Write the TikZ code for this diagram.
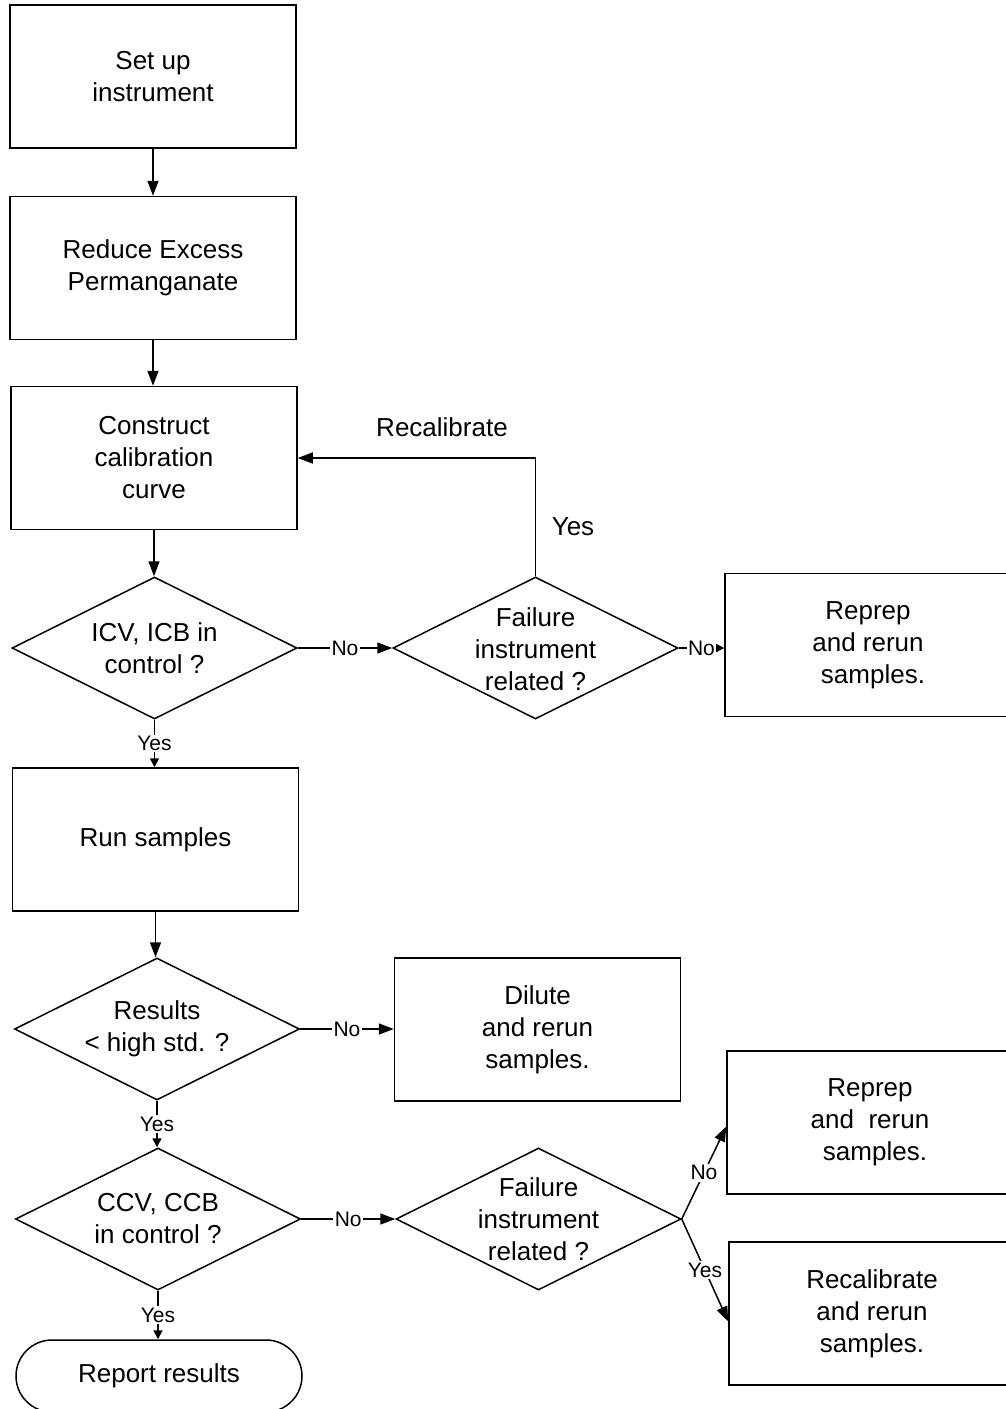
\documentclass[tikz,border=0pt]{standalone}
\usepackage{fontspec}
\setmainfont{Liberation Sans}
\usetikzlibrary{shapes.geometric,arrows.meta}
\begin{document}
\begin{tikzpicture}[x=1pt,y=-1pt,line width=1.5pt,
  box/.style={draw,rectangle,minimum width=286pt,minimum height=143pt,inner sep=0pt},
  dia/.style={draw,diamond,minimum width=285pt,minimum height=142pt,inner sep=0pt},
  txt/.style={align=center,font=\fontsize{26}{32}\selectfont,inner sep=0pt},
  lbl/.style={font=\fontsize{21}{25}\selectfont,fill=white,inner sep=1.5pt},
  arr/.style={-{Triangle[length=15pt,width=11pt]}},
  sarr/.style={-{Triangle[length=9pt,width=9pt]}}]
\useasboundingbox (0,0) rectangle (1006,1409);
\clip (0,0) rectangle (1006,1409);
% boxes
\node[box,txt] (b1) at (153,76.5) {Set up\\instrument};
\node[box,txt] (b2) at (153,268) {Reduce Excess\\Permanganate};
\node[box,txt] (b3) at (154,458) {Construct\\calibration\\curve};
\node[dia] (d1) at (154.5,648) {};
\node[txt] (d1t) at (d1) {ICV, ICB in\\control ?};
\node[dia] (d2) at (535.5,648) {};
\node[txt] (d2t) at ([yshift=-1pt]d2.center) {Failure\\instrument\\related ?};
\node[box,txt] (b4) at (868,645) {Reprep\\and rerun\\\hspace*{10pt}samples.};
\node[box,txt] (b5) at (155.5,839.5) {Run samples};
\node[dia] (d3) at (157,1029) {};
\node[txt] (d3t) at (d3) {Results\\< high std. ?};
\node[box,txt] (b6) at (537.5,1029.5) {Dilute\\and rerun\\samples.};
\node[dia] (d4) at (158,1219) {};
\node[txt] (d4t) at (d4) {CCV, CCB\\in control ?};
\node[dia] (d5) at (538.5,1219) {};
\node[txt] (d5t) at (d5) {Failure\\instrument\\related ?};
\node[box,txt] (b7) at (870,1122.5) {Reprep\\and\ \ rerun\\\hspace*{10pt}samples.};
\node[box,txt] (b8) at (872,1313.5) {Recalibrate\\and rerun\\samples.};
\node[draw,rectangle,rounded corners=36pt,minimum width=286pt,minimum height=72pt,txt] (t1) at (159,1376) {Report results};
% connectors
\draw[arr] (b1.south) -- (b1.south |- b2.north);
\draw[arr] (b2.south) -- (b2.south |- b3.north);
\draw[arr] (b3.south) -- (b3.south |- d1.north);
\draw[sarr] (d1.south) -- node[lbl]{Yes} (d1.south |- b5.north);
\draw[arr] (d1.east) -- node[lbl]{No} (d2.west);
\draw[sarr] (d2.east) -- node[lbl]{No} (d2.east -| b4.west);
\draw[arr] (d2.north) |- (b3.east);
\node[txt] (lrec) at (442,427) {Recalibrate};
\node[txt] (lyes) at (573,527) {Yes};
\draw[arr] (b5.south) -- (b5.south |- d3.north);
\draw[arr] (d3.east) -- node[lbl]{No} (d3.east -| b6.west);
\draw[sarr] (d3.south) -- node[lbl]{Yes} (d3.south |- d4.north);
\draw[arr] (d4.east) -- node[lbl]{No} (d5.west);
\draw[sarr] (d4.south) -- node[lbl]{Yes} (d4.south |- t1.north);
\coordinate (b7in) at ([yshift=-4pt]b7.west);
\coordinate (b8in) at ([yshift=-8pt]b8.west);
\draw[arr] (d5.east) -- node[lbl]{No} (b7in);
\draw[arr] (d5.east) -- node[lbl]{Yes} (b8in);
\end{tikzpicture}
\end{document}
